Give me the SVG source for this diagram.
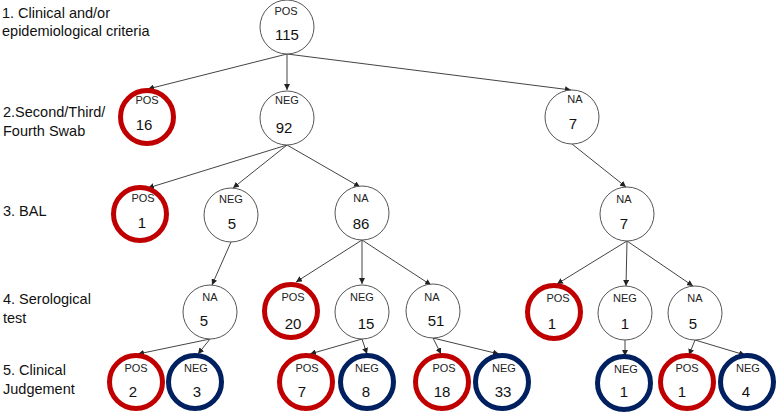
<svg xmlns="http://www.w3.org/2000/svg" width="777" height="415" viewBox="0 0 777 415">
<style>
.bg{fill:#fff}
.thin{fill:#fff;stroke:#555;stroke-width:1}
.red{fill:#fff;stroke:#C00000;stroke-width:5}
.navy{fill:#fff;stroke:#002060;stroke-width:5}
.lab{font-family:"Liberation Sans",Arial,sans-serif;font-size:11px;fill:#222;text-anchor:middle}
.num{font-family:"Liberation Sans",Arial,sans-serif;font-size:15px;fill:#111;text-anchor:middle}
.side{font-family:"Liberation Sans",Arial,sans-serif;font-size:14.5px;fill:#111}
.edge{stroke:#444;stroke-width:1;fill:none;marker-end:url(#ah)}
</style>
<defs>
<marker id="ah" markerUnits="userSpaceOnUse" markerWidth="7" markerHeight="6" refX="6" refY="3" orient="auto">
<path d="M0,0 L6,3 L0,6 z" fill="#222"/>
</marker>
</defs>
<rect class="bg" x="0" y="0" width="777" height="415"/>
<g id="levels">
<text class="side" x="2" y="18">1. Clinical and/or</text>
<text class="side" x="2" y="36">epidemiological criteria</text>
<text class="side" x="3" y="117">2.Second/Third/</text>
<text class="side" x="3" y="136">Fourth Swab</text>
<text class="side" x="3" y="216">3. BAL</text>
<text class="side" x="3" y="304">4. Serological</text>
<text class="side" x="3" y="323">test</text>
<text class="side" x="3" y="375">5. Clinical</text>
<text class="side" x="3" y="394">Judgement</text>
</g>
<g id="connectors">
<line class="edge" x1="287" y1="54" x2="148" y2="89"/>
<line class="edge" x1="287" y1="54" x2="287" y2="90"/>
<line class="edge" x1="287" y1="54" x2="571" y2="90"/>
<line class="edge" x1="287" y1="145" x2="148" y2="188"/>
<line class="edge" x1="287" y1="145" x2="233" y2="188"/>
<line class="edge" x1="287" y1="145" x2="360" y2="187"/>
<line class="edge" x1="572" y1="144" x2="626" y2="187"/>
<line class="edge" x1="231" y1="242" x2="212" y2="285"/>
<line class="edge" x1="362" y1="240" x2="296" y2="282"/>
<line class="edge" x1="362" y1="240" x2="362" y2="284"/>
<line class="edge" x1="362" y1="240" x2="431" y2="285"/>
<line class="edge" x1="627" y1="241" x2="557" y2="284"/>
<line class="edge" x1="627" y1="241" x2="626" y2="286"/>
<line class="edge" x1="627" y1="241" x2="693" y2="286"/>
<line class="edge" x1="210" y1="339" x2="138" y2="354"/>
<line class="edge" x1="210" y1="339" x2="198" y2="354"/>
<line class="edge" x1="362" y1="339" x2="310" y2="354"/>
<line class="edge" x1="362" y1="339" x2="367" y2="354"/>
<line class="edge" x1="433" y1="338" x2="441" y2="354"/>
<line class="edge" x1="433" y1="338" x2="499" y2="354"/>
<line class="edge" x1="625" y1="340" x2="625" y2="356"/>
<line class="edge" x1="695" y1="340" x2="689" y2="355"/>
<line class="edge" x1="695" y1="340" x2="745" y2="355"/>
</g>
<g id="root"><circle class="thin" cx="287" cy="27" r="27"/><text class="lab" x="286" y="15">POS</text><text class="num" x="287" y="40">115</text></g>
<g id="swab-pos"><circle class="red" cx="147" cy="117" r="26.5"/><text class="lab" x="147" y="104">POS</text><text class="num" x="144" y="130">16</text></g>
<g id="swab-neg"><circle class="thin" cx="287" cy="118" r="27"/><text class="lab" x="287" y="104">NEG</text><text class="num" x="284" y="133">92</text></g>
<g id="swab-na"><circle class="thin" cx="572" cy="117" r="27"/><text class="lab" x="575" y="103">NA</text><text class="num" x="573" y="129">7</text></g>
<g id="bal-pos"><circle class="red" cx="140" cy="214" r="26.5"/><text class="lab" x="143" y="202">POS</text><text class="num" x="142" y="228">1</text></g>
<g id="bal-neg"><circle class="thin" cx="231" cy="215" r="27"/><text class="lab" x="231" y="203">NEG</text><text class="num" x="232" y="229">5</text></g>
<g id="bal-na"><circle class="thin" cx="362" cy="213" r="27"/><text class="lab" x="361" y="202">NA</text><text class="num" x="361" y="229">86</text></g>
<g id="bal-na2"><circle class="thin" cx="627" cy="214" r="27"/><text class="lab" x="624" y="203">NA</text><text class="num" x="624" y="229">7</text></g>
<g id="sero-na1"><circle class="thin" cx="210" cy="312" r="27"/><text class="lab" x="210" y="301">NA</text><text class="num" x="204" y="326">5</text></g>
<g id="sero-pos1"><circle class="red" cx="291" cy="311" r="26.5"/><text class="lab" x="293" y="301">POS</text><text class="num" x="293" y="329">20</text></g>
<g id="sero-neg1"><circle class="thin" cx="362" cy="312" r="27"/><text class="lab" x="362" y="301">NEG</text><text class="num" x="366" y="329">15</text></g>
<g id="sero-na2"><circle class="thin" cx="433" cy="311" r="27"/><text class="lab" x="432" y="301">NA</text><text class="num" x="436" y="326">51</text></g>
<g id="sero-pos2"><circle class="red" cx="554" cy="312" r="26.5"/><text class="lab" x="558" y="302">POS</text><text class="num" x="552" y="329">1</text></g>
<g id="sero-neg2"><circle class="thin" cx="625" cy="313" r="27"/><text class="lab" x="625" y="302">NEG</text><text class="num" x="625" y="329">1</text></g>
<g id="sero-na3"><circle class="thin" cx="695" cy="313" r="27"/><text class="lab" x="695" y="302">NA</text><text class="num" x="693" y="329">5</text></g>
<g id="cj-pos1"><circle class="red" cx="136" cy="382" r="26.5"/><text class="lab" x="136" y="372">POS</text><text class="num" x="133" y="397">2</text></g>
<g id="cj-neg1"><circle class="navy" cx="195" cy="382" r="26.5"/><text class="lab" x="196" y="372">NEG</text><text class="num" x="197" y="397">3</text></g>
<g id="cj-pos2"><circle class="red" cx="306" cy="382" r="26.5"/><text class="lab" x="307" y="372">POS</text><text class="num" x="302" y="397">7</text></g>
<g id="cj-neg2"><circle class="navy" cx="367" cy="382" r="26.5"/><text class="lab" x="367" y="372">NEG</text><text class="num" x="366" y="397">8</text></g>
<g id="cj-pos3"><circle class="red" cx="442" cy="382" r="26.5"/><text class="lab" x="444" y="372">POS</text><text class="num" x="442" y="397">18</text></g>
<g id="cj-neg3"><circle class="navy" cx="502" cy="382" r="26.5"/><text class="lab" x="504" y="372">NEG</text><text class="num" x="503" y="397">33</text></g>
<g id="cj-neg4"><circle class="navy" cx="624" cy="383" r="26.5"/><text class="lab" x="626" y="373">NEG</text><text class="num" x="624" y="397">1</text></g>
<g id="cj-pos4"><circle class="red" cx="687" cy="382" r="26.5"/><text class="lab" x="687" y="372">POS</text><text class="num" x="682" y="397">1</text></g>
<g id="cj-neg5"><circle class="navy" cx="747" cy="382" r="26.5"/><text class="lab" x="748" y="372">NEG</text><text class="num" x="746" y="397">4</text></g>
</svg>
